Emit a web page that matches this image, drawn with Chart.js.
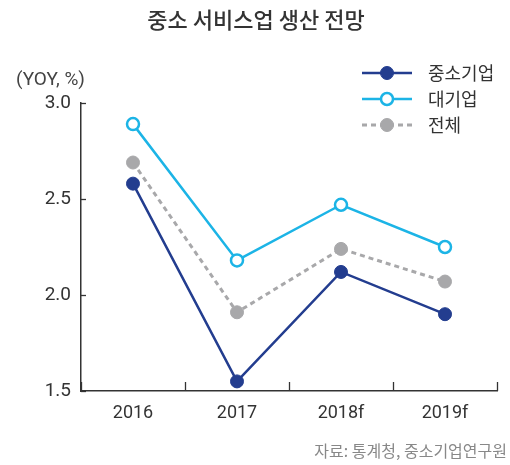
<!DOCTYPE html>
<html><head><meta charset="utf-8">
<script src="https://cdn.jsdelivr.net/npm/chart.js@4"></script>
<style>html,body{margin:0;padding:0;background:#fff}#wrap{width:510px;height:465px}</style>
</head><body><div id="wrap"><canvas id="c" width="510" height="465"></canvas></div>
<script>
const title = '중소 서비스업 생산 전망';
const yAxisLabel = '(YOY, %)';
const source = '자료: 통계청, 중소기업연구원';
const categories = ['2016', '2017', '2018f', '2019f'];
const yTicks = [1.5, 2.0, 2.5, 3.0];
const seriesNames = ['중소기업', '대기업', '전체'];
const smeValues = [2.58, 1.55, 2.12, 1.90];
const largeValues = [2.89, 2.18, 2.47, 2.25];
const totalValues = [2.69, 1.91, 2.24, 2.07];

const NUMF = "Roboto, 'Liberation Sans', sans-serif";
const KRF = "'Noto Sans CJK KR', sans-serif";

const textPlugin = {
  id: 'texts',
  afterDraw(chart) {
    const ctx = chart.ctx;
    ctx.save();
    ctx.fillStyle = '#333';
    ctx.font = "500 22px " + KRF;
    ctx.textAlign = 'center'; ctx.textBaseline = 'middle';
    ctx.fillText(title, 256, 20);
    ctx.font = "19px " + NUMF;
    ctx.textAlign = 'left';
    ctx.fillStyle = '#444';
    ctx.fillText(yAxisLabel, 16, 80);
    ctx.font = "16px " + KRF;
    ctx.fillStyle = '#888';
    ctx.textAlign = 'right';
    ctx.fillText(source, 507, 451);
    // legend
    const ys = [73, 99, 125];
    chart.data.datasets.forEach((ds, i) => {
      const y = ys[i];
      ctx.strokeStyle = ds.borderColor;
      ctx.lineWidth = ds.borderWidth;
      ctx.setLineDash(ds.borderDash || []);
      ctx.beginPath(); ctx.moveTo(362, y); ctx.lineTo(412, y); ctx.stroke();
      ctx.setLineDash([]);
      ctx.beginPath(); ctx.arc(387, y, ds.pointRadius, 0, Math.PI * 2);
      ctx.fillStyle = ds.pointBackgroundColor; ctx.fill();
      ctx.lineWidth = ds.pointBorderWidth; ctx.strokeStyle = ds.pointBorderColor; ctx.stroke();
      ctx.fillStyle = '#333';
      ctx.font = "18px " + KRF;
      ctx.textAlign = 'left';
      ctx.fillText(ds.label, 428, y);
    });
    // inner tick marks
    const xs = chart.scales.x, yS = chart.scales.y, a = chart.chartArea;
    ctx.strokeStyle = '#333'; ctx.lineWidth = 1.3;
    yS.ticks.forEach((t, i) => {
      const py = Math.round(yS.getPixelForValue(t.value)) + 0.5;
      ctx.beginPath(); ctx.moveTo(a.left, py); ctx.lineTo(a.left + 5, py); ctx.stroke();
    });
    for (let i = 0; i <= categories.length; i++) {
      const px = Math.round(xs.getPixelForValue(i - 0.5)) + 0.5;
      ctx.beginPath(); ctx.moveTo(px, a.bottom); ctx.lineTo(px, a.bottom - 9); ctx.stroke();
    }
    ctx.restore();
  }
};

new Chart(document.getElementById('c'), {
  type: 'line',
  data: {
    labels: categories,
    datasets: [
      { label: seriesNames[0], data: smeValues, borderColor: '#233d8f', backgroundColor: '#233d8f',
        borderWidth: 2.5, pointRadius: 6.5, pointBackgroundColor: '#233d8f', pointBorderColor: '#233d8f', pointBorderWidth: 1, order: 1 },
      { label: seriesNames[1], data: largeValues, borderColor: '#1cb4e6', backgroundColor: '#fff',
        borderWidth: 2.5, pointRadius: 6, pointBackgroundColor: '#ffffff', pointBorderColor: '#1cb4e6', pointBorderWidth: 2.5, order: 2 },
      { label: seriesNames[2], data: totalValues, borderColor: '#a8a8aa', backgroundColor: '#a8a8aa',
        borderWidth: 3, borderDash: [5, 4], pointRadius: 6.5, pointBackgroundColor: '#a8a8aa', pointBorderColor: '#a8a8aa', pointBorderWidth: 1, order: 3 }
    ]
  },
  options: {
    responsive: false, animation: false,
    layout: { padding: { top: 103, right: 13, left: 0, bottom: 0 } },
    plugins: { legend: { display: false }, tooltip: { enabled: false }, title: { display: false } },
    scales: {
      x: {
        offset: true,
        grid: { display: false, drawTicks: false },
        border: { display: true, color: '#333', width: 1.5 },
        ticks: { color: '#333', font: { size: 18, family: NUMF }, padding: 12 },
        afterFit(s) { s.height = 74; }
      },
      y: {
        min: 1.5, max: 3.0,
        afterBuildTicks(s) { s.ticks = yTicks.map(v => ({ value: v })); },
        grid: { display: false, drawTicks: false },
        border: { display: true, color: '#333', width: 1.5 },
        ticks: { color: '#333', font: { size: 19, family: NUMF }, padding: 10, callback: v => Number(v).toFixed(1) },
        afterFit(s) { s.width = 81; }
      }
    }
  },
  plugins: [textPlugin]
});
</script></body></html>
